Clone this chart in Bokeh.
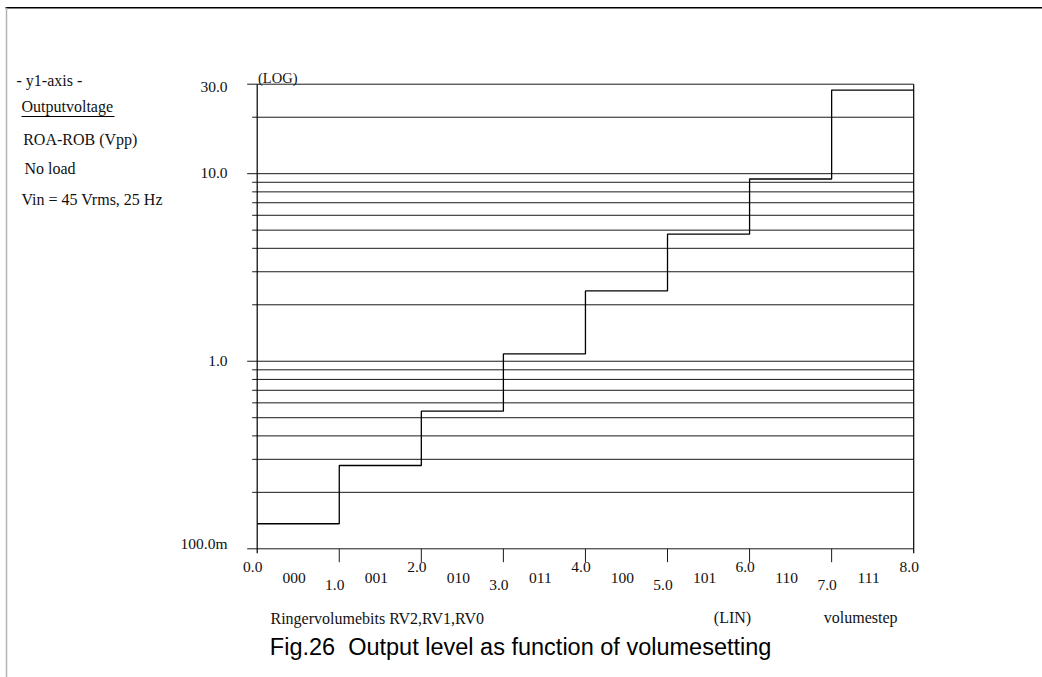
import math
from bokeh.plotting import figure
from bokeh.models import Range1d, LogScale, LinearScale
from bokeh.core.properties import value
from bokeh.embed import file_html
from bokeh.resources import INLINE

# ---------------- data ----------------
steps = [0, 1, 2, 3, 4, 5, 6, 7]
output_vpp = [0.136, 0.278, 0.542, 1.094, 2.37, 4.76, 9.37, 27.9]
x_ticks = [0, 1, 2, 3, 4, 5, 6, 7, 8]
x_tick_labels = ["0.0", "1.0", "2.0", "3.0", "4.0", "5.0", "6.0", "7.0", "8.0"]
bit_codes = ["000", "001", "010", "011", "100", "101", "110", "111"]
y_major = [30.0, 10.0, 1.0, 0.1]
y_major_labels = ["30.0", "10.0", "1.0", "100.0m"]
y_minor = [20, 9, 8, 7, 6, 5, 4, 3, 2, 0.9, 0.8, 0.7, 0.6, 0.5, 0.4, 0.3, 0.2]
left_notes = ["- y1-axis -", "Outputvoltage", "ROA-ROB (Vpp)", "No load",
              "Vin = 45 Vrms, 25 Hz"]
x_title = "Ringervolumebits RV2,RV1,RV0"
fig_title = "Fig.26\u00a0 Output level as function of volumesetting"

# ---------------- geometry (pixels) ----------------
W, H = 1042, 677
X0, X1 = 256.7, 913.2      # pixel of x=0 and x=8
YT, YB = 83.7, 548.3       # pixel of y=30 and y=0.1
XMIN, XMAX = 0.0, 8.0
YMIN, YMAX = 0.1, 30.0
kx = (X1 - X0) / (XMAX - XMIN)
ky = (YB - YT) / (math.log10(YMAX) - math.log10(YMIN))


def px2x(px):
    return XMIN + (px - X0) / kx


def px2y(py):
    return 10 ** (math.log10(YMIN) - (py - YB) / ky)


p = figure(width=W, height=H,
           x_range=Range1d(px2x(0), px2x(W)),
           y_range=Range1d(px2y(H), px2y(0)),
           y_axis_type="log",
           x_axis_location=None, y_axis_location=None,
           min_border=0, toolbar_location=None, output_backend="svg",
           outline_line_color=None,
           background_fill_color="white", border_fill_color="white")
p.x_scale = LinearScale()
p.y_scale = LogScale()
p.xgrid.visible = False
p.ygrid.visible = False

SERIF = value("Liberation Serif")
SANS = value("Liberation Sans")
LC = "#1a1a1a"
TC = "#111111"

# page frame lines
p.segment(x0=[px2x(5)], y0=[px2y(7.3)], x1=[px2x(W)], y1=[px2y(7.3)],
          line_color="black", line_width=1.6)
p.segment(x0=[px2x(6)], y0=[px2y(7.3)], x1=[px2x(6)], y1=[px2y(H)],
          line_color="#b4b4b4", line_width=1.5)

# horizontal grid lines (minor with short ticks, major with long ticks)
maj_start = px2x(X0 - 10)
min_start = px2x(X0 - 5)
p.segment(x0=[min_start] * len(y_minor), y0=y_minor,
          x1=[XMAX] * len(y_minor), y1=y_minor,
          line_color=LC, line_width=1)
p.segment(x0=[maj_start] * len(y_major), y0=y_major,
          x1=[XMAX] * len(y_major), y1=y_major,
          line_color=LC, line_width=1)

# axes: left vertical, right border
p.segment(x0=[XMIN], y0=[px2y(YB + 4.4)], x1=[XMIN], y1=[YMAX],
          line_color="black", line_width=1.2)
p.segment(x0=[XMAX], y0=[px2y(YB + 4.4)], x1=[XMAX], y1=[YMAX],
          line_color="black", line_width=1.2)
# x ticks
inner = x_ticks[1:-1]
p.segment(x0=inner, y0=[YMIN] * len(inner), x1=inner,
          y1=[px2y(YB + 13.4)] * len(inner), line_color=LC, line_width=1)

# step curve
p.step(x=steps + [x_ticks[-1]], y=output_vpp + [output_vpp[-1]], mode="after",
       line_color="black", line_width=1.3)

# y tick labels
lab_x = px2x(227)
p.text(x=[lab_x] * len(y_major), y=y_major, text=y_major_labels,
       text_font=SERIF, text_font_size="15.5px", text_align="right",
       text_baseline="middle", y_offset=[3, -0.5, -0.5, -5.5],
       text_color=TC)

# x tick labels (alternating heights)
even = [i for i in range(len(x_ticks)) if i % 2 == 0]
odd = [i for i in range(len(x_ticks)) if i % 2 == 1]
p.text(x=[x_ticks[i] for i in even], y=[YMIN] * len(even),
       text=[x_tick_labels[i] for i in even],
       text_font=SERIF, text_font_size="15.5px", text_align="center",
       text_baseline="middle", x_offset=-4.5, y_offset=18.4, text_color=TC)
p.text(x=[x_ticks[i] for i in odd], y=[YMIN] * len(odd),
       text=[x_tick_labels[i] for i in odd],
       text_font=SERIF, text_font_size="15.5px", text_align="center",
       text_baseline="middle", x_offset=-4.5, y_offset=36, text_color=TC)
p.text(x=[s + 0.5 for s in steps], y=[YMIN] * len(steps), text=bit_codes,
       text_font=SERIF, text_font_size="15.5px", text_align="center",
       text_baseline="middle", x_offset=-4, y_offset=29.3, text_color=TC)

# (LOG) marker
p.text(x=[px2x(257.5)], y=[px2y(77.5)], text=["(LOG)"], text_font=SERIF,
       text_font_size="14.5px", text_align="left", text_baseline="middle",
       text_color=TC)

# left notes
note_x = [16, 21, 22.7, 24, 21]
note_y = [80, 106.2, 138.5, 168, 199]
p.text(x=[px2x(v) for v in note_x], y=[px2y(v) for v in note_y], text=left_notes,
       text_font=SERIF, text_font_size="16px", text_align="left",
       text_baseline="middle", text_color=TC)
p.segment(x0=[px2x(21)], y0=[px2y(116)], x1=[px2x(114)], y1=[px2y(116)],
          line_color="black", line_width=1)

# bottom annotations
p.text(x=[px2x(270), px2x(713.3), px2x(823.3)],
       y=[px2y(618), px2y(617), px2y(617)],
       text=[x_title, "(LIN)", "volumestep"],
       text_font=SERIF, text_font_size="16px", text_align="left",
       text_baseline="middle", text_color=TC)

# figure caption
p.text(x=[px2x(269.3)], y=[px2y(646)], text=[fig_title], text_font=SANS,
       text_font_size="23.5px", text_align="left", text_baseline="middle",
       text_color="black")

open("out.html", "w").write(file_html(p, INLINE))
